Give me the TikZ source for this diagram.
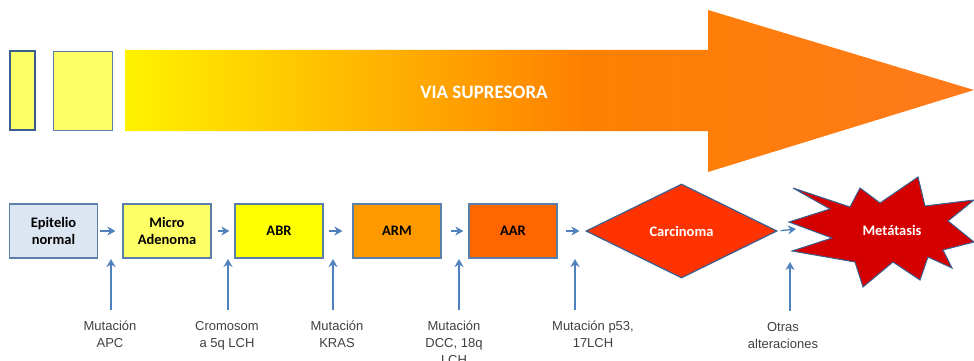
\documentclass[tikz,border=0pt]{standalone}
\usepackage{fontspec}
\setmainfont{Liberation Sans}
\newfontfamily\calfont{Carlito}
\usetikzlibrary{shapes.geometric,arrows.meta}
\definecolor{vyel}{RGB}{255,242,0}
\definecolor{vorg}{RGB}{255,128,0}
\definecolor{vorg2}{RGB}{255,122,28}
\definecolor{boxline}{HTML}{5A7FAA}
\definecolor{darkline}{HTML}{3A5F8F}
\definecolor{arrblue}{HTML}{4F81BD}
\definecolor{epit}{HTML}{DCE6F2}
\definecolor{lyel}{HTML}{FFFF66}
\definecolor{yel}{HTML}{FFFF00}
\definecolor{armc}{HTML}{FF9900}
\definecolor{aarc}{HTML}{FF6600}
\definecolor{carc}{HTML}{FF3300}
\definecolor{metred}{HTML}{D40000}
\definecolor{labgray}{HTML}{404040}
\pgfdeclarehorizontalshading{viashade}{100bp}{color(0bp)=(vyel); color(25bp)=(vyel); color(52bp)=(vorg); color(75bp)=(vorg2); color(100bp)=(vorg2)}
\begin{document}
\begin{tikzpicture}[x=1pt,y=-1pt,
  box/.style={draw=boxline, line width=1.2pt, minimum width=88pt, minimum height=54pt, inner sep=0pt,
    font=\calfont\bfseries\fontsize{14.5}{17}\selectfont, align=center},
  conn/.style={draw=arrblue, line width=1.3pt, -{Stealth[length=8pt,width=9pt,inset=2.5pt]}},
  lab/.style={font=\fontsize{13}{17}\selectfont, align=center, anchor=north, inner sep=0pt, text=labgray}]
\useasboundingbox (0,0) rectangle (974,361);
% big arrow
\shade[shading=viashade] (125,50) -- (708,50) -- (708,10) -- (974,90) -- (708,172) -- (708,131) -- (125,131) -- cycle;
\node[text=white, font=\calfont\bfseries\fontsize{19}{22}\selectfont] (via) at (484,92) {VIA SUPRESORA};
% small rectangles
\node[draw=darkline, fill=lyel, line width=2.6pt, minimum width=25pt, minimum height=79pt, inner sep=0pt] (r1) at (22.5,90.5) {};
\node[draw=boxline, fill=lyel, line width=1.4pt, minimum width=59pt, minimum height=79pt, inner sep=0pt] (r2) at (83,91) {};
% boxes
\node[box, fill=epit] (e) at (53.5,231) {Epitelio\\normal};
\node[box, fill=lyel] (m) at (167,231) {Micro\\Adenoma};
\node[box, fill=yel] (abr) at (279,231) {ABR};
\node[box, fill=armc] (arm) at (397,231) {ARM};
\node[box, fill=aarc] (aar) at (513,231) {AAR};
\node[diamond, draw=darkline, fill=carc, line width=1.2pt, minimum width=191pt, minimum height=94pt, inner sep=0pt,
  text=white, font=\calfont\bfseries\fontsize{14.5}{17}\selectfont] (car) at (681.5,231) {Carcinoma};
% star
\filldraw[fill=metred, draw=darkline, line width=1pt] (793,188) -- (850,207) -- (860,188) -- (880,203) -- (918,177) -- (925,206) -- (974,200) -- (948,221) -- (974,242) -- (943,250) -- (952,268) -- (928,257) -- (920,280) -- (893,262) -- (863,287) -- (855,262) -- (792,251) -- (832,238) -- (789,222) -- (830,209) -- cycle;
\node[text=white, font=\calfont\bfseries\fontsize{14.5}{17}\selectfont] (met) at (892,230) {Metátasis};
\coordinate (metin) at (796,229);
% horizontal connectors
\draw[conn, shorten <=2pt, shorten >=7pt] (e.east) -- (m.west);
\draw[conn, shorten <=6pt, shorten >=5pt] (m.east) -- (abr.west);
\draw[conn, shorten <=5pt, shorten >=10pt] (abr.east) -- (arm.west);
\draw[conn, shorten <=9pt, shorten >=5pt] (arm.east) -- (aar.west);
\draw[conn, shorten <=8pt, shorten >=6pt] (aar.east) -- (car.west);
\draw[conn, shorten <=3pt] (car.east) -- (metin);
% labels
\node[lab] (l1) at (110,321) {Mutación\\APC};
\node[lab] (l2) at (227,321) {Cromosom\\a 5q LCH};
\node[lab] (l3) at (337,321) {Mutación\\KRAS};
\node[lab] (l4) at (454,321) {Mutación\\DCC, 18q\\LCH};
\node[lab] (l5) at (593,321) {Mutación p53,\\17LCH};
\node[lab] (l6) at (783,322) {Otras\\alteraciones};
\coordinate (t1) at (111,259);
\coordinate (t2) at (228,259);
\coordinate (t3) at (333,259);
\coordinate (t4) at (459,259);
\coordinate (t5) at (575,259);
\coordinate (t6) at (790,262);
\draw[conn, shorten <=11pt] (t1 |- l1.north) -- (t1);
\draw[conn, shorten <=11pt] (t2 |- l2.north) -- (t2);
\draw[conn, shorten <=11pt] (t3 |- l3.north) -- (t3);
\draw[conn, shorten <=11pt] (t4 |- l4.north) -- (t4);
\draw[conn, shorten <=11pt] (t5 |- l5.north) -- (t5);
\draw[conn, shorten <=11pt] (t6 |- l6.north) -- (t6);
\end{tikzpicture}
\end{document}
